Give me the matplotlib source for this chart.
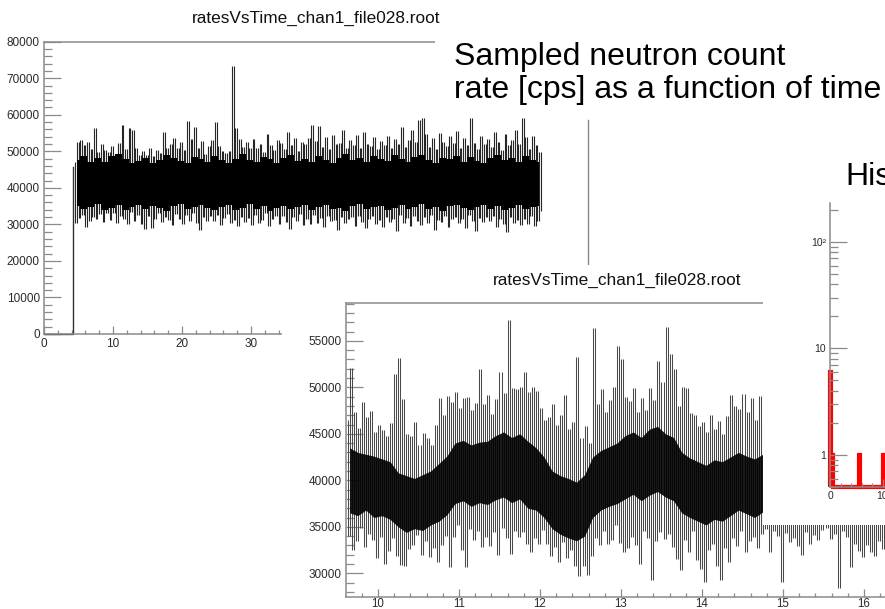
import numpy as np
import matplotlib
matplotlib.use("Agg")
import matplotlib.pyplot as plt
from matplotlib.ticker import MultipleLocator, LogLocator, FuncFormatter, NullFormatter
from matplotlib.patches import Rectangle
from matplotlib.lines import Line2D

# --- Data -------------------------------------------------------

title_root = "ratesVsTime_chan1_file028.root"
slide_text = ["Sampled neutron count", "rate [cps] as a function of time"]
hist_text = "Histogram"

# full run (0.5 s bins from 4.25 s): spike tips, dips, and 1 s core band
p1_start = 4.25
p1_lead_t = [0.0, 4.15, 4.15]
p1_lead_v = [0, 0, 45700]
p1_hi = [
    47000, 52500, 53000, 51800, 52600, 50500, 56500, 49800, 52000, 50400,
    49800, 51500, 48400, 52300, 57200, 50600, 56500, 55800, 51000, 49000,
    50200, 49000, 51000, 48800, 50400, 49500, 55400, 50800, 52100, 53600,
    51000, 52600, 50300, 58400, 53400, 56700, 50800, 52900, 49200, 51500,
    53000, 58000, 51400, 50000, 49600, 50200, 73400, 56300, 53500, 51200,
    52600, 51000, 53400, 50800, 52000, 49900, 54800, 51600, 50400, 53000,
    52400, 50600, 55200, 51800, 53600, 50200, 52500, 52000, 53600, 57200,
    52800, 57000, 51200, 53800, 50500, 54600, 51900, 52400, 55800, 50900,
    53200, 51600, 54400, 50800, 55300, 52100, 51400, 53900, 50600, 52700,
    51800, 54200, 50900, 53500, 52000, 56700, 51300, 53100, 55900, 52500,
    58600, 59200, 54800, 51200, 53600, 50700, 55000, 52600, 51400, 54100,
    52200, 55600, 50800, 53700, 51600, 59000, 52400, 50600, 54300, 51900,
    53500, 51100, 55200, 52600, 50400, 54700, 51800, 53200, 55900, 52000,
    59000, 53800, 50600, 54200, 51700, 49800]
p1_lo = [
    30500, 31800, 32600, 29300, 30800, 31900, 31500, 32900, 30600, 33200,
    31200, 33000, 30400, 32200, 31600, 30000, 33400, 31000, 32500, 30200,
    28800, 32400, 28900, 31500, 33000, 30600, 32100, 31300, 29900, 32800,
    31400, 30200, 32700, 31000, 33100, 30500, 28400, 31900, 30800, 32300,
    30900, 32500, 29800, 31700, 32900, 30300, 31200, 29600, 32000, 30700,
    31800, 29900, 32600, 30400, 31300, 33000, 29500, 31600, 32400, 30100,
    32200, 30600, 28700, 31900, 30900, 32800, 29800, 31500, 30200, 32600,
    30400, 31700, 29200, 32300, 30800, 31200, 28500, 32000, 30500, 31400,
    31900, 29600, 32400, 30700, 28900, 31600, 32200, 30100, 31300, 29400,
    32100, 30600, 31500, 28200, 32700, 30300, 31800, 29500, 32300, 30900,
    29800, 31900, 30400, 32600, 28600, 31200, 30700, 32400, 29300, 31600,
    32000, 30300, 31400, 29000, 32500, 30900, 28300, 31700, 30600, 32100,
    30800, 32300, 29400, 31600, 30200, 27800, 32000, 30500, 31200, 29700,
    31500, 30100, 32400, 29600, 31000, 33800]
p1_core_hi = [
    47500, 48800, 47200, 48200, 47000, 48600, 49200, 47800, 46800, 47400,
    48300, 46900, 47700, 49000, 48100, 47300, 46700, 48500, 47900, 47100,
    48700, 47500, 46800, 48000, 49300, 47600, 47000, 48400, 47800, 46900,
    48200, 49100, 47400, 48000, 47200, 48800, 47700, 46800, 48300, 49200,
    47500, 48100, 47000, 48600, 47900, 47300, 48900, 48000, 47100, 48400,
    49000, 47600, 46900, 48200, 47800, 48700, 47200, 48500, 47400, 46800,
    48100, 49100, 47700, 48300, 47000, 48600, 47500, 47000]
p1_core_lo = [
    35000, 34200, 34800, 35500, 34000, 34600, 35200, 33900, 34700, 35400,
    34300, 35000, 34500, 33800, 34900, 35600, 34100, 34800, 35300, 34400,
    33900, 34700, 35200, 34000, 34600, 35500, 34300, 34900, 33700, 34500,
    35100, 34200, 34800, 35400, 34000, 34700, 35300, 34100, 34600, 33800,
    34900, 35500, 34200, 34700, 35100, 33900, 34500, 35200, 34300, 34800,
    35600, 34100, 34700, 33800, 34900, 35300, 34400, 34000, 34800, 35200,
    34300, 34900, 33900, 34600, 35400, 34200, 34800, 35000]

# zoomed view (0.05 s bins from 9.6 s) and 0.1 s core band
p2_start = 9.6
p2_hi = [
    46500, 52100, 47300, 45600, 48400, 46800, 47500, 45200, 46000, 45400,
    44800, 46200, 51400, 53200, 48700, 45000, 44800, 46300, 43800, 45100,
    44500, 43800, 46000, 48800, 47000, 49100, 48400, 49500, 47800, 48900,
    49000, 47600, 48300, 52000, 48200, 49200, 47100, 48700, 51600, 49400,
    57200, 49900, 49800, 50000, 51600, 49500, 50000, 49600, 47800, 46500,
    46800, 48200, 45900, 47000, 49200, 45500, 46300, 53300, 44600, 45800,
    44000, 56400, 48200, 49800, 47300, 48600, 50000, 54400, 53000, 49000,
    48500, 49900, 47300, 48800, 47600, 49900, 48600, 52800, 50600, 56500,
    53600, 52000, 48000, 50000, 49900, 47200, 47000, 45800, 46300, 45200,
    47000, 45500, 46400, 45000, 46900, 49200, 48000, 47700, 49300, 47300,
    48800, 46500, 49100, 46000, 45500, 47000, 44800, 46200, 45700, 47400,
    46100, 45000, 47800, 46600, 44900, 48200, 45300, 46700, 45900, 47100,
    45600, 46800, 44700, 47500, 46300, 45100, 48000, 46400, 45200, 46900,
    45800, 47200, 46000, 45400]
p2_lo = [
    34000, 32500, 33500, 34900, 32800, 34200, 33600, 31600, 33900, 31000,
    32400, 33800, 31900, 30900, 30800, 32600, 33000, 34100, 32000, 33500,
    31800, 32700, 31200, 33000, 34000, 30700, 33900, 35200, 32500, 30700,
    34800, 33600, 34500, 32800, 33900, 32900, 34400, 32000, 34900, 33800,
    32100, 34600, 33900, 34400, 33200, 32300, 33800, 33100, 34700, 33100,
    31900, 32800, 31200, 33400, 31600, 32500, 30800, 29700, 30800, 29800,
    31900, 33800, 33000, 34500, 33200, 33600, 35200, 33300, 32300, 32700,
    33900, 33000, 31000, 34500, 33800, 29300, 33500, 34400, 33700, 34200,
    32800, 31500, 30400, 33600, 32300, 34600, 31400, 30500, 29100, 32500,
    33200, 30800, 29300, 32700, 31200, 33800, 32900, 34600, 32300, 33500,
    33900, 32700, 34200, 34800, 32300, 34500, 34000, 29100, 34300, 33400,
    33800, 32900, 32000, 34400, 33200, 34100, 33600, 34700, 34900, 33700,
    34200, 28400, 34600, 33900, 30700, 33100, 32400, 31700, 33000, 32300,
    31900, 33500, 32600, 34000]
p2_core_lo = [
    36500, 36200, 36800, 36000, 36200, 35800, 35000, 34400, 34800, 34600,
    35200, 35600, 36300, 37500, 37800, 37200, 37600, 37400, 37900, 38200,
    37600, 38000, 37000, 36800, 36000, 34800, 34200, 33800, 33500, 34000,
    36000, 36800, 37200, 37500, 38000, 38500, 37800, 38400, 38800, 38200,
    37800, 36500, 36000, 35600, 35200, 35800, 35600, 36200, 36800, 36400,
    36000, 36600, 36000, 35800, 36400, 36200, 35600, 36000, 36500, 36100,
    35700, 36300, 35900, 36200, 36000, 35800, 36100]
p2_core_hi = [
    43500, 43000, 42800, 42600, 42300, 42000, 40800, 40500, 40200, 40600,
    41000, 41800, 42600, 44000, 44300, 43800, 44100, 44200, 44800, 45200,
    44600, 45000, 44200, 43500, 42500, 41000, 40500, 40200, 39800, 40600,
    42500, 43200, 43600, 44000, 44800, 45200, 44600, 45500, 45800, 45000,
    44600, 43000, 42400, 42000, 41600, 42200, 42000, 42500, 43000, 42600,
    42300, 42800, 42400, 41800, 42600, 42100, 41700, 42900, 42200, 41500,
    42700, 42000, 41600, 42400, 41900, 42300, 41800]

# histogram (bin width 0.25), only the non-empty bins
hist_bin_width = 0.25
hist_nbins = 120
hist_bin_lo = [0.0, 0.25, 5.5, 10.0]
hist_counts = [6, 1, 1, 1]

# --- Style -------------------------------------------------------

plt.rcParams["font.family"] = ["Liberation Sans", "DejaVu Sans"]
W, H = 885, 609
GRAY = "#8a8a8a"
LABEL = "#2a2a2a"

fig = plt.figure(figsize=(W / 100, H / 100), dpi=100)


def px_axes(x0, y0, x1, y1, z):
    return fig.add_axes([x0 / W, 1 - y1 / H, (x1 - x0) / W, (y1 - y0) / H], zorder=z)


def cover(x0, y0, x1, y1, z):
    fig.add_artist(Rectangle((x0 / W, 1 - y1 / H), (x1 - x0) / W, (y1 - y0) / H,
                             transform=fig.transFigure, facecolor="white",
                             edgecolor="none", zorder=z))


def root_axes(ax, top=True, fs=8.5):
    ax.set_facecolor("none")
    ax.spines["right"].set_visible(False)
    ax.spines["top"].set_visible(top)
    for s in ["left", "bottom", "top"]:
        ax.spines[s].set_color(GRAY)
        ax.spines[s].set_linewidth(1.1)
    ax.tick_params(axis="both", which="both", direction="in", color=GRAY,
                   width=0.9, labelsize=fs, labelcolor=LABEL, top=False, right=False)
    ax.tick_params(axis="y", which="major", length=12, pad=3)
    ax.tick_params(axis="y", which="minor", length=6)
    ax.tick_params(axis="x", which="major", length=6, pad=3)
    ax.tick_params(axis="x", which="minor", length=3)


def int_fmt(vmax):
    return FuncFormatter(lambda v, p: "%d" % round(v) if v <= vmax else "")


def trace(ax, start, dt, hi, lo, lw, color):
    # tips and dips alternate inside each bin; draw the vertical jumps
    # between consecutive samples, as the dense sampled trace looks
    t = start + dt * np.arange(len(hi))
    tt = np.column_stack((t + 0.25 * dt, t + 0.75 * dt)).ravel()
    vv = np.column_stack((hi, lo)).ravel()
    xm = (tt[:-1] + tt[1:]) / 2
    ax.vlines(xm, np.minimum(vv[:-1], vv[1:]), np.maximum(vv[:-1], vv[1:]),
              colors=color, linewidth=lw)


# --- Panel 1: full run -------------------------------------------

fig.text(316 / W, 1 - 23 / H, title_root, fontsize=12.4, ha="center",
         va="baseline", color="#111111", zorder=1.5)

ax1 = px_axes(44, 41.7, 44 + 80 * 6.9, 334, 1)
root_axes(ax1)
ax1.set_facecolor("white")
ax1.set_xlim(0, 80)
ax1.set_ylim(0, 80000)
ax1.xaxis.set_major_locator(MultipleLocator(10))
ax1.xaxis.set_minor_locator(MultipleLocator(2))
ax1.yaxis.set_major_locator(MultipleLocator(10000))
ax1.yaxis.set_minor_locator(MultipleLocator(2000))
ax1.xaxis.set_major_formatter(int_fmt(30))
ax1.yaxis.set_major_formatter(int_fmt(80000))

trace(ax1, p1_start, 0.5, p1_hi, p1_lo, 0.8, "#262626")
c1 = p1_start + 0.5 + np.arange(len(p1_core_hi))
ax1.fill_between(c1, p1_core_lo, p1_core_hi, step="mid", color="black",
                 linewidth=0, zorder=3)
ax1.plot(p1_lead_t, p1_lead_v, color="#333333", linewidth=1.0, clip_on=False)

# --- Slide text box ----------------------------------------------

cover(435, 30, 885, 117, 2)
fig.text(454 / W, 1 - 65 / H, slide_text[0], fontsize=23, va="baseline",
         color="black", zorder=2.2)
fig.text(454 / W, 1 - 98 / H, slide_text[1], fontsize=23, va="baseline",
         color="black", zorder=2.2)
fig.add_artist(Line2D([588 / W, 588 / W], [1 - 120 / H, 1 - 266 / H],
                      transform=fig.transFigure, color="#8a8a8a",
                      linewidth=1.0, zorder=2.5))

# --- Panel 2: zoomed view ----------------------------------------

cover(282, 265, 885, 609, 3)
fig.text(617.5 / W, 1 - 285 / H, title_root, fontsize=12.4, ha="center",
         va="baseline", color="#111111", zorder=3.5)

x2_left, x2_right, y2_lo, y2_hi = 9.605, 16.6, 27450, 59070
ax2 = px_axes(346, 303, 346 + 81 * (x2_right - x2_left), 597, 4)
root_axes(ax2)
ax2.tick_params(axis="x", which="major", pad=0.5, labelsize=8.3)
ax2.set_xlim(x2_left, x2_right)
ax2.set_ylim(y2_lo, y2_hi)
ax2.xaxis.set_major_locator(MultipleLocator(1))
ax2.xaxis.set_minor_locator(MultipleLocator(0.2))
ax2.yaxis.set_major_locator(MultipleLocator(5000))
ax2.yaxis.set_minor_locator(MultipleLocator(1000))
ax2.xaxis.set_major_formatter(int_fmt(16))
ax2.yaxis.set_major_formatter(int_fmt(59000))

trace(ax2, p2_start, 0.05, p2_hi, p2_lo, 0.75, "#4a4a4a")
c2 = p2_start + 0.05 + 0.1 * np.arange(len(p2_core_hi))
ax2.fill_between(c2, p2_core_lo, p2_core_hi, color="black", linewidth=0,
                 alpha=0.9, zorder=3)

# --- Panel 3: histogram ------------------------------------------

cover(763, 150, 885, 525, 5)
fig.text(845 / W, 1 - 185 / H, hist_text, fontsize=23, va="baseline",
         color="black", zorder=6.5)

ax3 = px_axes(830, 203, 830 + 5.25 * 30, 487, 6)
root_axes(ax3, top=False, fs=7.5)
ax3.set_xlim(0, 30)
ax3.set_yscale("log")
ax3.set_ylim(0.5, 232)
ax3.xaxis.set_major_locator(MultipleLocator(10))
ax3.xaxis.set_minor_locator(MultipleLocator(2))
ax3.xaxis.set_major_formatter(int_fmt(10))
ax3.yaxis.set_major_locator(LogLocator(base=10, subs=[1.0]))
ax3.yaxis.set_minor_locator(LogLocator(base=10, subs=np.arange(2, 10)))
ax3.yaxis.set_minor_formatter(NullFormatter())
ax3.yaxis.set_major_formatter(FuncFormatter(
    lambda v, p: {1: "1", 10: "10", 100: "10\u00b2"}.get(int(round(v)), "")))

counts = np.zeros(hist_nbins)
idx = np.round(np.array(hist_bin_lo) / hist_bin_width).astype(int)
counts[idx] = hist_counts
edges3 = hist_bin_width * np.arange(hist_nbins + 1)
ax3.stairs(np.maximum(counts, 0.5), edges3, baseline=0.5, color="#ff0000",
           linewidth=3, clip_on=False)

fig.savefig("out.png", dpi=100)
